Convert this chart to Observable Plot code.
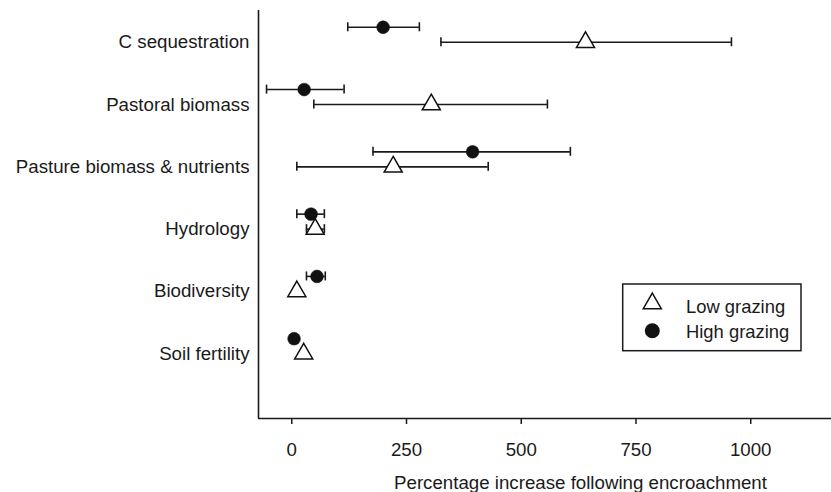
<!DOCTYPE html>
<html>
<head>
<meta charset="utf-8">
<script src="https://cdn.jsdelivr.net/npm/d3@7"></script>
<script src="https://cdn.jsdelivr.net/npm/@observablehq/plot@0.6"></script>
<style>
  html, body { margin: 0; padding: 0; background: #fff; }
  #wrap { position: relative; width: 831px; height: 492px; font-family: "Liberation Sans", Arial, Helvetica, sans-serif; }
  #legend { position: absolute; left: 0; top: 0; pointer-events: none; }
</style>
</head>
<body>
<div id="wrap"></div>
<script>
// ---- data ----
const categories = ["C sequestration", "Pastoral biomass", "Pasture biomass & nutrients", "Hydrology", "Biodiversity", "Soil fertility"];
const lowMean  = [640, 304, 221, 51, 11, 26];
const lowLo    = [325, 48, 11, 32, null, null];
const lowHi    = [958, 557, 428, 71, null, null];
const highMean = [199, 27, 394, 42, 55, 5];
const highLo   = [122, -55, 177, 11, 32, null];
const highHi   = [278, 114, 607, 71, 73, null];
const xTicks   = [0, 250, 500, 750, 1000];
const seriesNames = ["Low grazing", "High grazing"];
const xTitle = "Percentage increase following encroachment";

// ---- build tables ----
const lowRows = categories.map((c, i) => ({cat: c, i, v: lowMean[i], lo: lowLo[i], hi: lowHi[i]}));
const highRows = categories.map((c, i) => ({cat: c, i, v: highMean[i], lo: highLo[i], hi: highHi[i]}));
const lowErr = lowRows.filter(d => d.lo != null);
const highErr = highRows.filter(d => d.lo != null);

const xDomain = [-72.5, 1176];
const yDomain = [-0.51, 6.04];
const ink = "#1a1a1a";
const fs = 18.7;
const highDy = -15;

const chart = Plot.plot({
  width: 831,
  height: 492,
  marginTop: 10,
  marginBottom: 74,
  marginLeft: 258,
  marginRight: 0,
  style: {fontSize: fs + "px", fontFamily: "'Liberation Sans', Arial, Helvetica, sans-serif", color: ink, background: "white"},
  x: {domain: xDomain, label: null},
  y: {domain: yDomain, reverse: true, label: null},
  marks: [
    Plot.ruleX([xDomain[0]], {stroke: ink, strokeWidth: 1.6}),
    Plot.ruleY([yDomain[1]], {stroke: ink, strokeWidth: 1.6}),
    Plot.axisX({ticks: xTicks, tickFormat: d3.format("d"), tickSize: 6, tickPadding: 18, strokeWidth: 1.5, label: null, fontSize: fs}),
    Plot.axisY({ticks: categories.map((_, i) => i), tickFormat: i => categories[i], tickSize: 0, tickPadding: 9, label: null, fontSize: fs}),
    // error bars: low grazing
    Plot.ruleY(lowErr, {x1: "lo", x2: "hi", y: "i", stroke: ink, strokeWidth: 1.6}),
    Plot.ruleX(lowErr, {x: "lo", y1: "i", y2: "i", insetTop: -4.5, insetBottom: -4.5, stroke: ink, strokeWidth: 1.6}),
    Plot.ruleX(lowErr, {x: "hi", y1: "i", y2: "i", insetTop: -4.5, insetBottom: -4.5, stroke: ink, strokeWidth: 1.6}),
    // error bars: high grazing
    Plot.ruleY(highErr, {x1: "lo", x2: "hi", y: "i", dy: highDy, stroke: ink, strokeWidth: 1.6}),
    Plot.ruleX(highErr, {x: "lo", y1: "i", y2: "i", dy: highDy, insetTop: -4.5, insetBottom: -4.5, stroke: ink, strokeWidth: 1.6}),
    Plot.ruleX(highErr, {x: "hi", y1: "i", y2: "i", dy: highDy, insetTop: -4.5, insetBottom: -4.5, stroke: ink, strokeWidth: 1.6}),
    // markers
    Plot.dot(lowRows, {x: "v", y: "i", symbol: "triangle", r: 6.7, fill: "white", stroke: "#111", strokeWidth: 1.5}),
    Plot.dot(highRows, {x: "v", y: "i", dy: highDy, r: 6.4, fill: "#111", stroke: "#111", strokeWidth: 0.5}),
    // axis title
    Plot.text([xTitle], {text: d => d, frameAnchor: "bottom", dx: 35.5, dy: 70, fontSize: fs, fill: ink})
  ]
});

const wrap = document.getElementById("wrap");
wrap.appendChild(chart);

// ---- legend (overlay) ----
const NS = "http://www.w3.org/2000/svg";
const leg = document.createElementNS(NS, "svg");
leg.setAttribute("id", "legend");
leg.setAttribute("width", 831);
leg.setAttribute("height", 492);
const box = document.createElementNS(NS, "rect");
box.setAttribute("x", 622.7); box.setAttribute("y", 284);
box.setAttribute("width", 178.3); box.setAttribute("height", 66.7);
box.setAttribute("fill", "white"); box.setAttribute("stroke", ink); box.setAttribute("stroke-width", 1.5);
leg.appendChild(box);
const tri = document.createElementNS(NS, "path");
tri.setAttribute("d", d3.symbol(d3.symbolTriangle, Math.PI * 6.7 * 6.7)());
tri.setAttribute("transform", "translate(652.3,303.5)");
tri.setAttribute("fill", "white"); tri.setAttribute("stroke", "#111"); tri.setAttribute("stroke-width", 1.5);
leg.appendChild(tri);
const circ = document.createElementNS(NS, "circle");
circ.setAttribute("cx", 652.3); circ.setAttribute("cy", 330.7); circ.setAttribute("r", 7.5);
circ.setAttribute("fill", "#111");
leg.appendChild(circ);
[[seriesNames[0], 312.6], [seriesNames[1], 338.4]].forEach(([t, yb]) => {
  const tx = document.createElementNS(NS, "text");
  tx.setAttribute("x", 686); tx.setAttribute("y", yb);
  tx.setAttribute("font-size", "18.4px");
  tx.setAttribute("font-family", "'Liberation Sans', Arial, Helvetica, sans-serif");
  tx.setAttribute("fill", ink);
  tx.textContent = t;
  leg.appendChild(tx);
});
wrap.appendChild(leg);
</script>
</body>
</html>
